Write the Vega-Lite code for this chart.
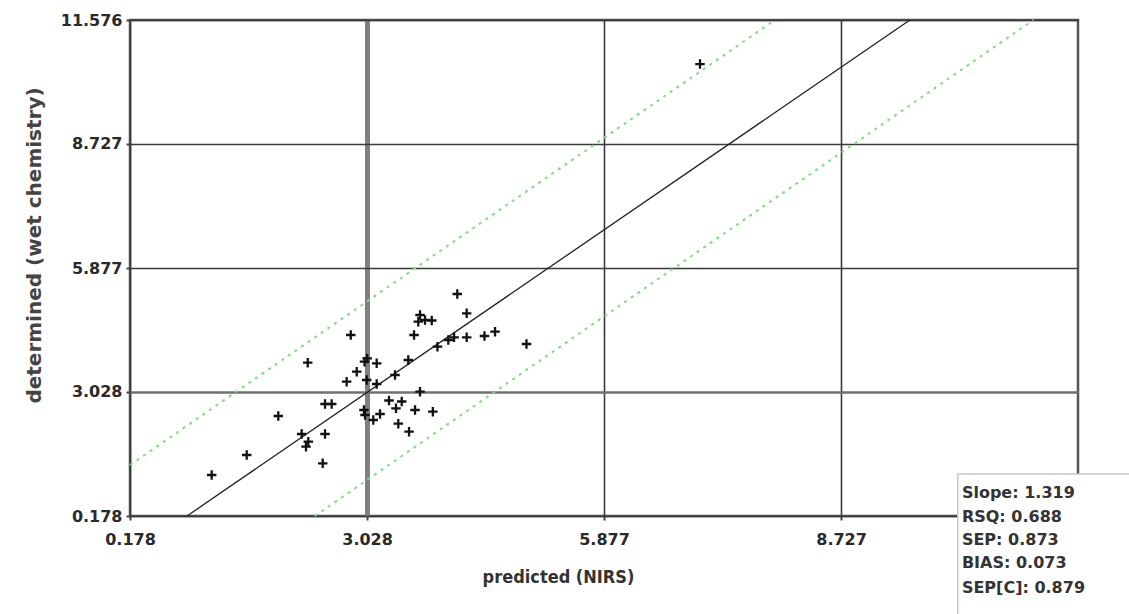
{
  "$schema": "https://vega.github.io/schema/vega-lite/v6.json",
  "width": 948,
  "height": 496,
  "autosize": {"type": "none"},
  "padding": {"left": 130, "top": 20, "right": 51, "bottom": 98},
  "background": "white",
  "config": {
    "view": {"stroke": "#555555", "strokeWidth": 2.5},
    "axis": {
      "labelFont": "DejaVu Sans",
      "labelFontWeight": "bold",
      "labelFontSize": 16,
      "labelColor": "#2a2a2a",
      "domain": false,
      "tickSize": 4,
      "tickWidth": 2,
      "tickColor": "#444444",
      "labelOverlap": false,
      "labelBound": false,
      "labelFlush": false
    }
  },
  "datasets": {
    "points": [
      {"predicted": 4.113, "determined": 5.279},
      {"predicted": 4.226, "determined": 4.836},
      {"predicted": 3.665, "determined": 4.797},
      {"predicted": 3.644, "determined": 4.643},
      {"predicted": 3.725, "determined": 4.682},
      {"predicted": 3.806, "determined": 4.670},
      {"predicted": 2.832, "determined": 4.337},
      {"predicted": 3.593, "determined": 4.337},
      {"predicted": 4.005, "determined": 4.222},
      {"predicted": 4.074, "determined": 4.284},
      {"predicted": 4.226, "determined": 4.284},
      {"predicted": 4.440, "determined": 4.314},
      {"predicted": 4.567, "determined": 4.413},
      {"predicted": 4.945, "determined": 4.130},
      {"predicted": 3.875, "determined": 4.068},
      {"predicted": 3.524, "determined": 3.763},
      {"predicted": 2.315, "determined": 3.701},
      {"predicted": 2.998, "determined": 3.724},
      {"predicted": 3.030, "determined": 3.800},
      {"predicted": 3.144, "determined": 3.687},
      {"predicted": 2.904, "determined": 3.494},
      {"predicted": 3.364, "determined": 3.418},
      {"predicted": 2.783, "determined": 3.264},
      {"predicted": 3.024, "determined": 3.303},
      {"predicted": 3.144, "determined": 3.211},
      {"predicted": 3.665, "determined": 3.034},
      {"predicted": 2.523, "determined": 2.752},
      {"predicted": 2.603, "determined": 2.752},
      {"predicted": 3.292, "determined": 2.832},
      {"predicted": 3.445, "determined": 2.809},
      {"predicted": 3.376, "determined": 2.653},
      {"predicted": 3.605, "determined": 2.614},
      {"predicted": 3.819, "determined": 2.575},
      {"predicted": 2.991, "determined": 2.614},
      {"predicted": 3.004, "determined": 2.499},
      {"predicted": 3.184, "determined": 2.522},
      {"predicted": 3.103, "determined": 2.384},
      {"predicted": 1.961, "determined": 2.476},
      {"predicted": 3.404, "determined": 2.299},
      {"predicted": 3.533, "determined": 2.115},
      {"predicted": 2.242, "determined": 2.062},
      {"predicted": 2.523, "determined": 2.062},
      {"predicted": 2.322, "determined": 1.885},
      {"predicted": 2.294, "determined": 1.770},
      {"predicted": 1.581, "determined": 1.580},
      {"predicted": 2.495, "determined": 1.389},
      {"predicted": 1.160, "determined": 1.120},
      {"predicted": 7.031, "determined": 10.564}
    ],
    "fit": [
      {"predicted": 0.863, "determined": 0.178},
      {"predicted": 9.555, "determined": 11.576}
    ],
    "limits": [
      {"band": "upper", "predicted": 0.178, "determined": 1.35},
      {"band": "upper", "predicted": 7.931, "determined": 11.576},
      {"band": "lower", "predicted": 2.40, "determined": 0.178},
      {"band": "lower", "predicted": 11.04, "determined": 11.576}
    ],
    "box": [
      {"x1": 10.13, "x2": 12.4, "y1": 1.143, "y2": -2.6}
    ],
    "stats": [
      {"label": "Slope: 1.319", "x": 10.18, "y": 0.706},
      {"label": "RSQ: 0.688", "x": 10.18, "y": 0.155},
      {"label": "SEP: 0.873", "x": 10.18, "y": -0.373},
      {"label": "BIAS: 0.073", "x": 10.18, "y": -0.902},
      {"label": "SEP[C]: 0.879", "x": 10.18, "y": -1.476}
    ]
  },
  "layer": [
    {
      "data": {"name": "limits"},
      "mark": {"type": "line", "color": "#80dd80", "strokeWidth": 2, "strokeDash": [3, 5]},
      "encoding": {
        "x": {
          "field": "predicted", "type": "quantitative",
          "scale": {"domain": [0.178, 11.576], "nice": false, "zero": false},
          "axis": {
            "values": [0.178, 3.028, 5.877, 8.727],
            "format": ".3f",
            "labelPadding": 11,
            "title": "predicted (NIRS)",
            "titleFont": "DejaVu Sans Condensed, DejaVu Sans, sans-serif",
            "titleFontWeight": "bold",
            "titleFontSize": 18,
            "titleColor": "#333333",
            "titleX": 428,
            "titleY": 66,
            "titleAlign": "center",
            "titleBaseline": "alphabetic",
            "grid": true,
            "gridColor": {"condition": {"test": "datum.value == 3.028", "value": "#808080"}, "value": "#3a3a3a"},
            "gridWidth": {"condition": {"test": "datum.value == 3.028", "value": 5}, "value": 1.6}
          }
        },
        "y": {
          "field": "determined", "type": "quantitative",
          "scale": {"domain": [0.178, 11.576], "nice": false, "zero": false},
          "axis": {
            "values": [0.178, 3.028, 5.877, 8.727, 11.576],
            "format": ".3f",
            "labelPadding": 4,
            "title": "determined (wet chemistry)",
            "titleFont": "DejaVu Sans",
            "titleFontWeight": "bold",
            "titleFontSize": 20,
            "titleColor": "#444444",
            "titleX": -90,
            "titleY": 225,
            "titleAlign": "center",
            "titleBaseline": "alphabetic",
            "grid": true,
            "gridColor": {"condition": {"test": "datum.value == 3.028", "value": "#707070"}, "value": "#3a3a3a"},
            "gridWidth": {"condition": {"test": "datum.value == 3.028", "value": 2.5}, "value": 1.6}
          }
        },
        "detail": {"field": "band", "type": "nominal"}
      }
    },
    {
      "data": {"name": "fit"},
      "mark": {"type": "line", "color": "#222222", "strokeWidth": 1.3},
      "encoding": {
        "x": {"field": "predicted", "type": "quantitative"},
        "y": {"field": "determined", "type": "quantitative"}
      }
    },
    {
      "data": {"name": "points"},
      "mark": {"type": "point", "shape": "M-1,0L1,0M0,-1L0,1", "size": 90, "filled": false, "color": "#111111", "strokeWidth": 2.3, "opacity": 1},
      "encoding": {
        "x": {"field": "predicted", "type": "quantitative"},
        "y": {"field": "determined", "type": "quantitative"}
      }
    },
    {
      "data": {"name": "box"},
      "mark": {"type": "rect", "fill": "white", "stroke": "#c8c8c8", "strokeWidth": 1.5},
      "encoding": {
        "x": {"field": "x1", "type": "quantitative"},
        "x2": {"field": "x2"},
        "y": {"field": "y1", "type": "quantitative"},
        "y2": {"field": "y2"}
      }
    },
    {
      "data": {"name": "stats"},
      "mark": {"type": "text", "align": "left", "baseline": "middle", "font": "DejaVu Sans", "fontWeight": "bold", "fontSize": 16, "color": "#333333"},
      "encoding": {
        "x": {"field": "x", "type": "quantitative"},
        "y": {"field": "y", "type": "quantitative"},
        "text": {"field": "label", "type": "nominal"}
      }
    }
  ]
}
